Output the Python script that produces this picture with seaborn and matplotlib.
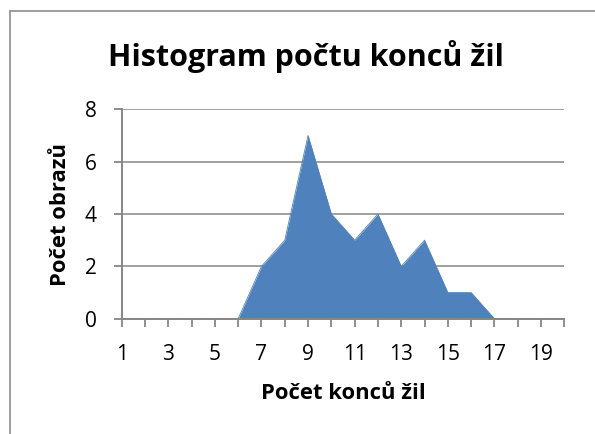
import matplotlib
matplotlib.use("Agg")
import matplotlib.pyplot as plt
from matplotlib.lines import Line2D
import seaborn as sns
import pandas as pd

# Histogram data: number of vein endings vs. number of images
konce = list(range(1, 21))
obrazy = [0, 0, 0, 0, 0, 0, 2, 3, 7, 4, 3, 4, 2, 3, 1, 1, 0, 0, 0, 0]
y_ticks = [0, 2, 4, 6, 8]
x_labels = [str(v) if v % 2 == 1 else "" for v in konce]

title = "Histogram počtu konců žil"
x_title = "Počet konců žil"
y_title = "Počet obrazů"

sns.set_theme(style="white")
plt.rcParams["font.family"] = ["Open Sans", "DejaVu Sans"]
plt.rcParams["text.color"] = "black"
plt.rcParams["axes.labelcolor"] = "black"

W, H = 595, 434
x0, x1, y_top, y_bot = 121.7, 564.3, 109.3, 318.7
fig = plt.figure(figsize=(W / 100, H / 100), dpi=100)
ax = fig.add_axes([x0 / W, 1 - y_bot / H, (x1 - x0) / W, (y_bot - y_top) / H])

df = pd.DataFrame({"konce": konce, "obrazy": obrazy})
fill = "#4F81BD"
grey = "#868686"

ax.fill_between(df["konce"], df["obrazy"], 0, color=fill, linewidth=0, zorder=2)
sns.lineplot(data=df, x="konce", y="obrazy", ax=ax, color=fill, linewidth=0.6, zorder=2)

ax.set_xlim(1, 20)
ax.set_ylim(0, 8)
ax.set_xticks(konce)
ax.set_xticklabels(x_labels)
ax.set_yticks(y_ticks)
ax.set_yticklabels([str(v) for v in y_ticks])

for v in y_ticks[1:]:
    ax.axhline(v, color=grey, linewidth=1.1, zorder=1)

for side in ("top", "right"):
    ax.spines[side].set_visible(False)
for side in ("left", "bottom"):
    ax.spines[side].set_color(grey)
    ax.spines[side].set_linewidth(1.4)
    ax.spines[side].set_zorder(3)

ax.tick_params(axis="both", which="major", length=6, width=1.3, color=grey,
               labelsize=15, labelcolor="black", direction="out")
ax.tick_params(axis="x", pad=12.5, bottom=True)
ax.tick_params(axis="y", pad=12, left=True)

ax.set_xlabel(x_title, fontsize=15.8, fontweight="bold")
ax.set_ylabel(y_title, fontsize=15.8, fontweight="bold")
ax.xaxis.label.set_va("center")
ax.yaxis.label.set_va("center")
ax.xaxis.set_label_coords(0.5, (y_bot - 393) / (y_bot - y_top))
ax.yaxis.set_label_coords((60.5 - x0) / (x1 - x0), 0.5)
ax.grid(False)

fig.text(306 / W, 1 - 66 / H, title, ha="center", va="baseline",
         fontsize=22, fontweight="bold")

# chart area frame (top and left edges)
fig.add_artist(Line2D([9.5 / W, 9.5 / W], [0, 1 - 10.5 / H], color="#8c8c8c",
                      linewidth=1.2, transform=fig.transFigure))
fig.add_artist(Line2D([9.5 / W, 1], [1 - 10.5 / H, 1 - 10.5 / H], color="#8c8c8c",
                      linewidth=1.2, transform=fig.transFigure))

fig.savefig("out.png", dpi=100, facecolor="white")
